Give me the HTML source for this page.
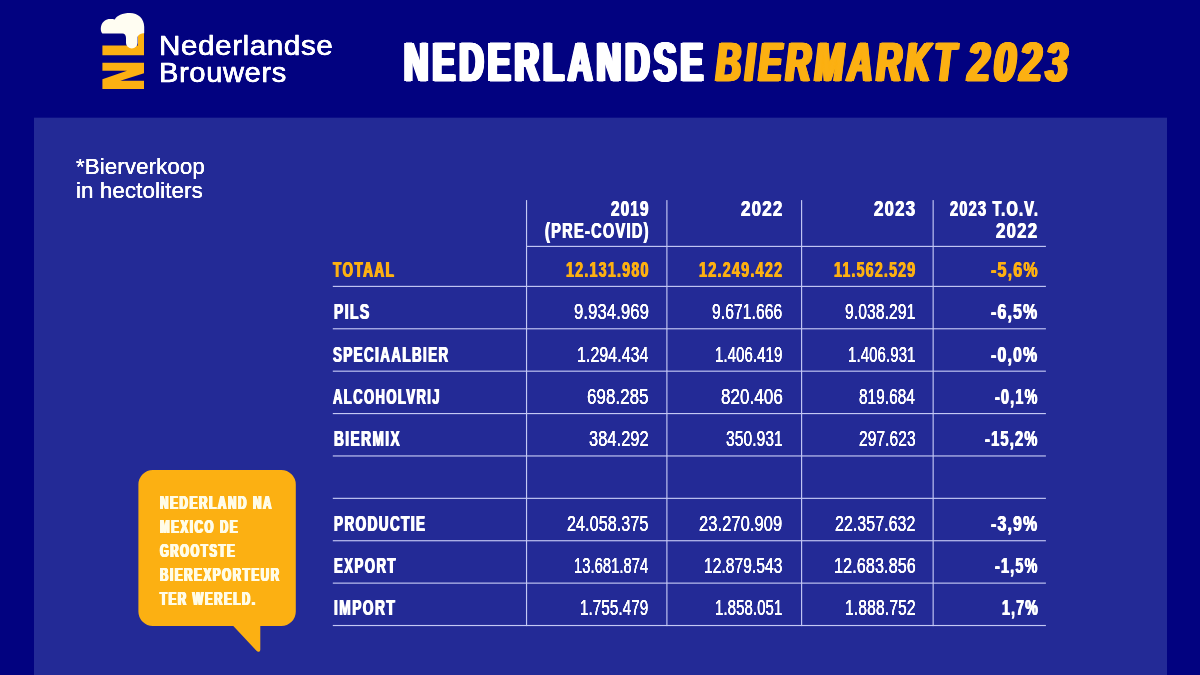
<!DOCTYPE html>
<html lang="nl">
<head>
<meta charset="utf-8">
<title>Nederlandse Biermarkt 2023</title>
<style>
html,body{margin:0;padding:0}
body{width:1200px;height:675px;overflow:hidden;background:#020280;font-family:"Liberation Sans",Arial,sans-serif;position:relative}
.page{position:absolute;left:0;top:0;width:1200px;height:675px;overflow:hidden;background:#020280}
.panel{position:absolute;left:34px;top:118px;width:1133px;height:557px;background:#232a96;box-shadow:0 -1px 0 #0c0e87}
.t{position:absolute;white-space:nowrap;line-height:1;transform-origin:0 0;color:#fff;font-weight:400;margin:0;padding:0;display:block}
.b{font-weight:700}
.bi{font-weight:700;font-style:italic}
.o{color:#fcb012}
.cr{color:#fffce8}
.logo{position:absolute;left:95px;top:10px}
.grid{position:absolute;left:0;top:0}
.bubsvg{position:absolute;left:130px;top:460px}
h1,p{margin:0;font-size:inherit;font-weight:inherit}
</style>
</head>
<body>
<div class="page">
<header>
<svg class="logo" width="60" height="90" viewBox="95 10 60 90" aria-hidden="true">
<g fill="#fcb012">
<path d="M102.4 62.700H144V73.300L120.300 80.700H144V88.900H102.4V79.300L127 70.700H102.4Z"/>
<path d="M102.4 45.600H138V30H144V55.200H102.4Z"/>
</g>
<path fill="#fffdf2" d="M102.4 33.6C100.700 32.200 100.400 28.200 101.300 25.600C102.600 21.400 106 19 110 19C112 19 113.600 19.100 114.800 19.500C116.800 15.600 122.500 13 130 13C138 13 144.200 18.500 144.200 26.800L144.200 33.200C141.500 33.400 138 34.200 137.600 37.200L137.600 43A5.800 5.400 0 0 1 126 43L126 38C126 35.500 124.800 33.600 122.400 33.600Z"/>
</svg>
<div class="brandname">
<span class="t r brand" id="t3" style="left:158.84px;top:31.60px;font-size:27.76px;transform:scaleX(1.0663);text-shadow:0.13px 0 0 currentColor,-0.13px 0 0 currentColor;-webkit-text-stroke:0.40px currentColor;letter-spacing:0.56px;">Nederlandse</span>
<span class="t r brand" id="t4" style="left:159.07px;top:58.50px;font-size:27.76px;transform:scaleX(1.0500);text-shadow:0.13px 0 0 currentColor,-0.13px 0 0 currentColor;-webkit-text-stroke:0.40px currentColor;letter-spacing:0.57px;">Brouwers</span>
</div>
<h1>
<span class="t b h1" id="t0" style="left:403.79px;top:35.46px;font-size:54.80px;transform:scaleX(0.6159);text-shadow:0.66px 0 0 currentColor,-0.66px 0 0 currentColor,1.31px 0 0 currentColor,-1.31px 0 0 currentColor,1.97px 0 0 currentColor,-1.97px 0 0 currentColor,2.63px 0 0 currentColor,-2.63px 0 0 currentColor,3.28px 0 0 currentColor,-3.28px 0 0 currentColor;-webkit-text-stroke:0.90px currentColor;letter-spacing:6.84px;">NEDERLANDSE</span>
<span class="t bi h1 o" id="t1" style="left:716.46px;top:35.46px;font-size:54.80px;transform:scaleX(0.6288);text-shadow:0.64px 0 0 currentColor,-0.64px 0 0 currentColor,1.28px 0 0 currentColor,-1.28px 0 0 currentColor,1.92px 0 0 currentColor,-1.92px 0 0 currentColor,2.57px 0 0 currentColor,-2.57px 0 0 currentColor,3.21px 0 0 currentColor,-3.21px 0 0 currentColor;-webkit-text-stroke:0.90px currentColor;letter-spacing:6.54px;">BIERMARKT</span>
<span class="t bi h1 o" id="t2" style="left:967.91px;top:35.46px;font-size:54.80px;transform:scaleX(0.7163);text-shadow:0.55px 0 0 currentColor,-0.55px 0 0 currentColor,1.10px 0 0 currentColor,-1.10px 0 0 currentColor,1.66px 0 0 currentColor,-1.66px 0 0 currentColor,2.21px 0 0 currentColor,-2.21px 0 0 currentColor,2.76px 0 0 currentColor,-2.76px 0 0 currentColor;-webkit-text-stroke:0.90px currentColor;letter-spacing:5.74px;">2023</span>
</h1>
</header>
<main>
<div class="panel"></div>
<p class="notep">
<span class="t r note" id="t5" style="left:75.75px;top:156.02px;font-size:21.95px;transform:scaleX(1.0105);text-shadow:0.10px 0 0 currentColor,-0.10px 0 0 currentColor;letter-spacing:0.17px;">*Bierverkoop</span>
<span class="t r note" id="t6" style="left:75.61px;top:179.82px;font-size:21.95px;transform:scaleX(1.0110);text-shadow:0.10px 0 0 currentColor,-0.10px 0 0 currentColor;letter-spacing:0.17px;">in hectoliters</span>
</p>
<section class="table" role="table">
<svg class="grid" width="1200" height="675" viewBox="0 0 1200 675" aria-hidden="true"><g fill="#c4c8f4">
<rect x="526.00" y="245.83" width="519.90" height="1.15"/>
<rect x="332.80" y="285.82" width="713.10" height="1.15"/>
<rect x="332.80" y="328.21" width="713.10" height="1.15"/>
<rect x="332.80" y="370.60" width="713.10" height="1.15"/>
<rect x="332.80" y="413.00" width="713.10" height="1.15"/>
<rect x="332.80" y="455.38" width="713.10" height="1.15"/>
<rect x="332.80" y="497.77" width="713.10" height="1.15"/>
<rect x="332.80" y="540.16" width="713.10" height="1.15"/>
<rect x="332.80" y="582.55" width="713.10" height="1.15"/>
<rect x="332.80" y="624.94" width="713.10" height="1.15"/>
<rect x="525.97" y="200.1" width="1.15" height="426.00"/>
<rect x="666.32" y="200.1" width="1.15" height="426.00"/>
<rect x="801.02" y="200.1" width="1.15" height="426.00"/>
<rect x="932.57" y="200.1" width="1.15" height="426.00"/>
</g></svg>
<div class="thead" role="row">
<span class="t b th" id="t7" style="left:610.73px;top:198.78px;font-size:21.52px;transform:scaleX(0.7030);text-shadow:0.64px 0 0 currentColor,-0.64px 0 0 currentColor;letter-spacing:1.80px;">2019</span>
<span class="t b th" id="t8" style="left:544.77px;top:221.03px;font-size:21.52px;transform:scaleX(0.6789);text-shadow:0.66px 0 0 currentColor,-0.66px 0 0 currentColor;letter-spacing:1.86px;">(PRE-COVID)</span>
<span class="t b th" id="t9" style="left:741.17px;top:198.78px;font-size:21.52px;transform:scaleX(0.7833);text-shadow:0.57px 0 0 currentColor,-0.57px 0 0 currentColor;letter-spacing:1.61px;">2022</span>
<span class="t b th" id="t10" style="left:874.18px;top:198.78px;font-size:21.52px;transform:scaleX(0.7780);text-shadow:0.58px 0 0 currentColor,-0.58px 0 0 currentColor;letter-spacing:1.63px;">2023</span>
<span class="t b th" id="t11" style="left:950.00px;top:198.78px;font-size:21.52px;transform:scaleX(0.6739);text-shadow:0.67px 0 0 currentColor,-0.67px 0 0 currentColor;letter-spacing:1.88px;">2023 T.O.V.</span>
<span class="t b th" id="t12" style="left:996.43px;top:221.03px;font-size:21.52px;transform:scaleX(0.7780);text-shadow:0.58px 0 0 currentColor,-0.58px 0 0 currentColor;letter-spacing:1.63px;">2022</span>
</div>
<div class="tr" role="row">
<span class="t b lab o" id="t13" style="left:333.30px;top:260.28px;font-size:21.52px;transform:scaleX(0.6298);text-shadow:0.87px 0 0 currentColor,-0.87px 0 0 currentColor;letter-spacing:2.28px;">TOTAAL</span>
<span class="t b num o" id="t14" style="left:565.78px;top:260.28px;font-size:21.52px;transform:scaleX(0.6644);text-shadow:0.63px 0 0 currentColor,-0.63px 0 0 currentColor;letter-spacing:1.83px;">12.131.980</span>
<span class="t b num o" id="t15" style="left:699.02px;top:260.28px;font-size:21.52px;transform:scaleX(0.6703);text-shadow:0.63px 0 0 currentColor,-0.63px 0 0 currentColor;letter-spacing:1.81px;">12.249.422</span>
<span class="t b num o" id="t16" style="left:834.03px;top:260.28px;font-size:21.52px;transform:scaleX(0.6597);text-shadow:0.64px 0 0 currentColor,-0.64px 0 0 currentColor;letter-spacing:1.84px;">11.562.529</span>
<span class="t b num o" id="t17" style="left:990.67px;top:260.28px;font-size:21.52px;transform:scaleX(0.7432);text-shadow:0.57px 0 0 currentColor,-0.57px 0 0 currentColor;letter-spacing:1.63px;">-5,6%</span>
</div>
<div class="tr" role="row">
<span class="t b lab" id="t18" style="left:334.18px;top:302.19px;font-size:21.52px;transform:scaleX(0.6445);text-shadow:0.85px 0 0 currentColor,-0.85px 0 0 currentColor;letter-spacing:2.23px;">PILS</span>
<span class="t r num" id="t19" style="left:573.77px;top:302.19px;font-size:21.52px;transform:scaleX(0.7758);text-shadow:0.06px 0 0 currentColor,-0.06px 0 0 currentColor;letter-spacing:0.11px;">9.934.969</span>
<span class="t r num" id="t20" style="left:711.82px;top:302.19px;font-size:21.52px;transform:scaleX(0.7258);text-shadow:0.07px 0 0 currentColor,-0.07px 0 0 currentColor;letter-spacing:0.12px;">9.671.666</span>
<span class="t r num" id="t21" style="left:844.82px;top:302.19px;font-size:21.52px;transform:scaleX(0.7279);text-shadow:0.07px 0 0 currentColor,-0.07px 0 0 currentColor;letter-spacing:0.12px;">9.038.291</span>
<span class="t b num" id="t22" style="left:991.18px;top:302.19px;font-size:21.52px;transform:scaleX(0.7341);text-shadow:0.57px 0 0 currentColor,-0.57px 0 0 currentColor;letter-spacing:1.65px;">-6,5%</span>
</div>
<div class="tr" role="row">
<span class="t b lab" id="t23" style="left:332.74px;top:345.16px;font-size:21.52px;transform:scaleX(0.6205);text-shadow:0.89px 0 0 currentColor,-0.89px 0 0 currentColor;letter-spacing:2.31px;">SPECIAALBIER</span>
<span class="t r num" id="t24" style="left:577.06px;top:345.16px;font-size:21.52px;transform:scaleX(0.7386);text-shadow:0.07px 0 0 currentColor,-0.07px 0 0 currentColor;letter-spacing:0.12px;">1.294.434</span>
<span class="t r num" id="t25" style="left:714.61px;top:345.16px;font-size:21.52px;transform:scaleX(0.6963);text-shadow:0.07px 0 0 currentColor,-0.07px 0 0 currentColor;letter-spacing:0.12px;">1.406.419</span>
<span class="t r num" id="t26" style="left:848.36px;top:345.16px;font-size:21.52px;transform:scaleX(0.6979);text-shadow:0.07px 0 0 currentColor,-0.07px 0 0 currentColor;letter-spacing:0.12px;">1.406.931</span>
<span class="t b num" id="t27" style="left:991.18px;top:345.16px;font-size:21.52px;transform:scaleX(0.7341);text-shadow:0.57px 0 0 currentColor,-0.57px 0 0 currentColor;letter-spacing:1.65px;">-0,0%</span>
</div>
<div class="tr" role="row">
<span class="t b lab" id="t28" style="left:333.10px;top:386.60px;font-size:21.52px;transform:scaleX(0.6042);text-shadow:0.91px 0 0 currentColor,-0.91px 0 0 currentColor;letter-spacing:2.37px;">ALCOHOLVRIJ</span>
<span class="t r num" id="t29" style="left:587.26px;top:386.60px;font-size:21.52px;transform:scaleX(0.7837);text-shadow:0.06px 0 0 currentColor,-0.06px 0 0 currentColor;letter-spacing:0.11px;">698.285</span>
<span class="t r num" id="t30" style="left:721.02px;top:386.60px;font-size:21.52px;transform:scaleX(0.7881);text-shadow:0.06px 0 0 currentColor,-0.06px 0 0 currentColor;letter-spacing:0.11px;">820.406</span>
<span class="t r num" id="t31" style="left:859.07px;top:386.60px;font-size:21.52px;transform:scaleX(0.7115);text-shadow:0.07px 0 0 currentColor,-0.07px 0 0 currentColor;letter-spacing:0.12px;">819.684</span>
<span class="t b num" id="t32" style="left:994.97px;top:386.60px;font-size:21.52px;transform:scaleX(0.6662);text-shadow:0.63px 0 0 currentColor,-0.63px 0 0 currentColor;letter-spacing:1.82px;">-0,1%</span>
</div>
<div class="tr" role="row">
<span class="t b lab" id="t33" style="left:334.19px;top:429.04px;font-size:21.52px;transform:scaleX(0.6365);text-shadow:0.86px 0 0 currentColor,-0.86px 0 0 currentColor;letter-spacing:2.25px;">BIERMIX</span>
<span class="t r num" id="t34" style="left:589.04px;top:429.04px;font-size:21.52px;transform:scaleX(0.7605);text-shadow:0.07px 0 0 currentColor,-0.07px 0 0 currentColor;letter-spacing:0.11px;">384.292</span>
<span class="t r num" id="t35" style="left:726.06px;top:429.04px;font-size:21.52px;transform:scaleX(0.7225);text-shadow:0.07px 0 0 currentColor,-0.07px 0 0 currentColor;letter-spacing:0.12px;">350.931</span>
<span class="t r num" id="t36" style="left:859.32px;top:429.04px;font-size:21.52px;transform:scaleX(0.7204);text-shadow:0.07px 0 0 currentColor,-0.07px 0 0 currentColor;letter-spacing:0.12px;">297.623</span>
<span class="t b num" id="t37" style="left:984.96px;top:429.04px;font-size:21.52px;transform:scaleX(0.6783);text-shadow:0.62px 0 0 currentColor,-0.62px 0 0 currentColor;letter-spacing:1.79px;">-15,2%</span>
</div>
<div class="tr" role="row">
<span class="t b lab" id="t38" style="left:334.20px;top:513.92px;font-size:21.52px;transform:scaleX(0.6282);text-shadow:0.88px 0 0 currentColor,-0.88px 0 0 currentColor;letter-spacing:2.28px;">PRODUCTIE</span>
<span class="t r num" id="t39" style="left:567.29px;top:513.92px;font-size:21.52px;transform:scaleX(0.7487);text-shadow:0.07px 0 0 currentColor,-0.07px 0 0 currentColor;letter-spacing:0.11px;">24.058.375</span>
<span class="t r num" id="t40" style="left:698.78px;top:513.92px;font-size:21.52px;transform:scaleX(0.7657);text-shadow:0.07px 0 0 currentColor,-0.07px 0 0 currentColor;letter-spacing:0.11px;">23.270.909</span>
<span class="t r num" id="t41" style="left:834.80px;top:513.92px;font-size:21.52px;transform:scaleX(0.7393);text-shadow:0.07px 0 0 currentColor,-0.07px 0 0 currentColor;letter-spacing:0.11px;">22.357.632</span>
<span class="t b num" id="t42" style="left:991.18px;top:513.92px;font-size:21.52px;transform:scaleX(0.7341);text-shadow:0.57px 0 0 currentColor,-0.57px 0 0 currentColor;letter-spacing:1.65px;">-3,9%</span>
</div>
<div class="tr" role="row">
<span class="t b lab" id="t43" style="left:334.22px;top:556.15px;font-size:21.52px;transform:scaleX(0.6139);text-shadow:0.90px 0 0 currentColor,-0.90px 0 0 currentColor;letter-spacing:2.34px;">EXPORT</span>
<span class="t r num" id="t44" style="left:574.13px;top:556.15px;font-size:21.52px;transform:scaleX(0.6826);text-shadow:0.07px 0 0 currentColor,-0.07px 0 0 currentColor;letter-spacing:0.12px;">13.681.874</span>
<span class="t r num" id="t45" style="left:703.58px;top:556.15px;font-size:21.52px;transform:scaleX(0.7208);text-shadow:0.07px 0 0 currentColor,-0.07px 0 0 currentColor;letter-spacing:0.12px;">12.879.543</span>
<span class="t r num" id="t46" style="left:834.04px;top:556.15px;font-size:21.52px;transform:scaleX(0.7530);text-shadow:0.07px 0 0 currentColor,-0.07px 0 0 currentColor;letter-spacing:0.11px;">12.683.856</span>
<span class="t b num" id="t47" style="left:994.97px;top:556.15px;font-size:21.52px;transform:scaleX(0.6662);text-shadow:0.63px 0 0 currentColor,-0.63px 0 0 currentColor;letter-spacing:1.82px;">-1,5%</span>
</div>
<div class="tr" role="row">
<span class="t b lab" id="t48" style="left:334.19px;top:597.80px;font-size:21.52px;transform:scaleX(0.6406);text-shadow:0.86px 0 0 currentColor,-0.86px 0 0 currentColor;letter-spacing:2.24px;">IMPORT</span>
<span class="t r num" id="t49" style="left:579.60px;top:597.80px;font-size:21.52px;transform:scaleX(0.7049);text-shadow:0.07px 0 0 currentColor,-0.07px 0 0 currentColor;letter-spacing:0.12px;">1.755.479</span>
<span class="t r num" id="t50" style="left:714.61px;top:597.80px;font-size:21.52px;transform:scaleX(0.6963);text-shadow:0.07px 0 0 currentColor,-0.07px 0 0 currentColor;letter-spacing:0.12px;">1.858.051</span>
<span class="t r num" id="t51" style="left:845.32px;top:597.80px;font-size:21.52px;transform:scaleX(0.7300);text-shadow:0.07px 0 0 currentColor,-0.07px 0 0 currentColor;letter-spacing:0.12px;">1.888.752</span>
<span class="t b num" id="t52" style="left:1001.54px;top:597.80px;font-size:21.52px;transform:scaleX(0.6544);text-shadow:0.64px 0 0 currentColor,-0.64px 0 0 currentColor;letter-spacing:1.86px;">1,7%</span>
</div>
</section>
<aside class="bubble">
<svg class="bubsvg" width="180" height="200" viewBox="130 460 180 200" aria-hidden="true">
<path fill="#fcb012" d="M152.900 469.900H281.300A14.500 14.500 0 0 1 295.800 484.400V611.500A14.500 14.500 0 0 1 281.300 626H260.300V649.500C260.300 652 258 652.500 256.500 650.800L233.300 626H152.900A14.500 14.500 0 0 1 138.400 611.500V484.400A14.500 14.500 0 0 1 152.900 469.900Z"/>
</svg>
<span class="t b bub cr" id="t53" style="left:160.27px;top:493.50px;font-size:18.31px;transform:scaleX(0.6367);text-shadow:0.63px 0 0 currentColor,-0.63px 0 0 currentColor,1.26px 0 0 currentColor,-1.26px 0 0 currentColor;letter-spacing:2.61px;">NEDERLAND NA</span>
<span class="t b bub cr" id="t54" style="left:160.28px;top:517.50px;font-size:18.31px;transform:scaleX(0.6250);text-shadow:0.64px 0 0 currentColor,-0.64px 0 0 currentColor,1.28px 0 0 currentColor,-1.28px 0 0 currentColor;letter-spacing:2.66px;">MEXICO DE</span>
<span class="t b bub cr" id="t55" style="left:159.85px;top:541.50px;font-size:18.31px;transform:scaleX(0.6133);text-shadow:0.65px 0 0 currentColor,-0.65px 0 0 currentColor,1.30px 0 0 currentColor,-1.30px 0 0 currentColor;letter-spacing:2.71px;">GROOTSTE</span>
<span class="t b bub cr" id="t56" style="left:160.28px;top:565.50px;font-size:18.31px;transform:scaleX(0.6291);text-shadow:0.64px 0 0 currentColor,-0.64px 0 0 currentColor,1.27px 0 0 currentColor,-1.27px 0 0 currentColor;letter-spacing:2.64px;">BIEREXPORTEUR</span>
<span class="t b bub cr" id="t57" style="left:160.20px;top:589.50px;font-size:18.31px;transform:scaleX(0.6220);text-shadow:0.64px 0 0 currentColor,-0.64px 0 0 currentColor,1.29px 0 0 currentColor,-1.29px 0 0 currentColor;letter-spacing:2.67px;">TER WERELD.</span>
</aside>
</main>
</div>
</body>
</html>
